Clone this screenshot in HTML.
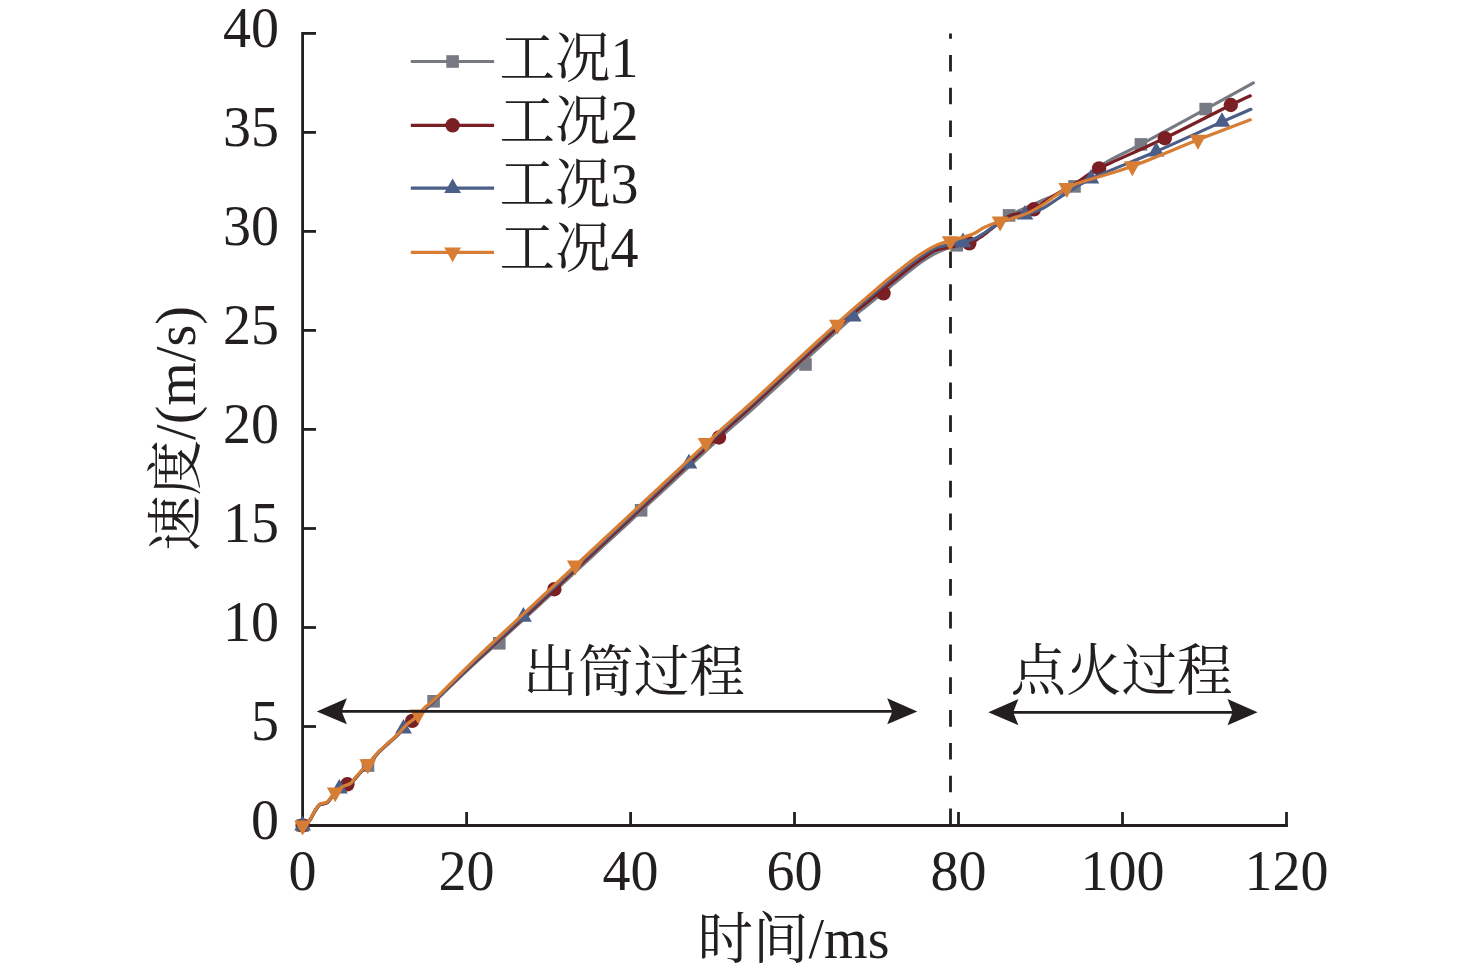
<!DOCTYPE html>
<html><head><meta charset="utf-8"><style>
html,body{margin:0;padding:0;background:#fff;}
svg{display:block;}
.n,.n2{font-family:"Liberation Serif",serif;font-size:56px;fill:#231f20;}
.c{font-family:"Noto Serif CJK SC","Liberation Serif",serif;font-size:55.5px;fill:#231f20;font-weight:400;}
.c .n2{font-weight:400;}
</style></head><body>
<svg width="1476" height="976" viewBox="0 0 1476 976">
<rect width="1476" height="976" fill="#fff"/>
<line x1="950.5" y1="825" x2="950.5" y2="33.5" stroke="#231f20" stroke-width="2.8" stroke-dasharray="16.6 16.16"/>
<path d="M302.6,33.4 V825.5 H1286.5" fill="none" stroke="#231f20" stroke-width="2.8" stroke-linejoin="miter" stroke-linecap="square"/>
<line x1="302.6" y1="726.5" x2="316" y2="726.5" stroke="#231f20" stroke-width="2.8"/>
<line x1="302.6" y1="627.5" x2="316" y2="627.5" stroke="#231f20" stroke-width="2.8"/>
<line x1="302.6" y1="528.5" x2="316" y2="528.5" stroke="#231f20" stroke-width="2.8"/>
<line x1="302.6" y1="429.4" x2="316" y2="429.4" stroke="#231f20" stroke-width="2.8"/>
<line x1="302.6" y1="330.4" x2="316" y2="330.4" stroke="#231f20" stroke-width="2.8"/>
<line x1="302.6" y1="231.4" x2="316" y2="231.4" stroke="#231f20" stroke-width="2.8"/>
<line x1="302.6" y1="132.4" x2="316" y2="132.4" stroke="#231f20" stroke-width="2.8"/>
<line x1="302.6" y1="33.4" x2="316" y2="33.4" stroke="#231f20" stroke-width="2.8"/>
<line x1="466.6" y1="825.5" x2="466.6" y2="812" stroke="#231f20" stroke-width="2.8"/>
<line x1="630.6" y1="825.5" x2="630.6" y2="812" stroke="#231f20" stroke-width="2.8"/>
<line x1="794.5" y1="825.5" x2="794.5" y2="812" stroke="#231f20" stroke-width="2.8"/>
<line x1="958.5" y1="825.5" x2="958.5" y2="812" stroke="#231f20" stroke-width="2.8"/>
<line x1="1122.5" y1="825.5" x2="1122.5" y2="812" stroke="#231f20" stroke-width="2.8"/>
<line x1="1286.5" y1="825.5" x2="1286.5" y2="812" stroke="#231f20" stroke-width="2.8"/>
<path d="M302.6,826.3 C303.1,826.2 304.2,826.6 305.5,825.6 C306.8,824.6 308.6,822.4 310.1,820.1 C311.6,817.8 313.1,814.3 314.7,811.8 C316.2,809.3 317.8,806.6 319.4,805.3 C320.9,804.0 322.6,804.4 324.0,803.9 C325.4,803.4 326.4,803.6 327.6,802.6 C328.8,801.6 330.0,799.5 331.3,797.9 C332.6,796.3 333.5,794.9 335.2,793.2 C336.9,791.5 339.7,789.0 341.5,787.8 C343.3,786.6 344.6,786.6 346.1,786.0 C347.6,785.4 349.2,785.3 350.7,784.1 C352.2,782.9 353.3,780.9 355.3,778.6 C357.3,776.3 360.6,772.5 362.7,770.3 C364.8,768.0 366.0,767.1 367.8,765.1 C369.6,763.1 371.8,760.5 373.7,758.3 C375.6,756.1 376.8,754.4 379.3,751.9 C381.8,749.4 385.4,746.3 388.5,743.5 C391.6,740.7 394.6,738.3 397.7,735.2 C400.8,732.1 404.1,727.7 406.9,725.1 C409.7,722.5 412.4,721.1 414.3,719.5 C416.2,717.9 414.9,718.1 418.2,715.2 C421.5,712.3 429.4,706.0 434.0,701.9 C438.6,697.8 442.0,694.4 446.0,690.6 C450.0,686.8 454.0,682.9 458.0,679.1 C462.0,675.3 466.0,671.6 470.0,667.9 C474.0,664.1 478.0,660.5 482.0,656.9 C486.0,653.3 490.0,649.7 494.0,646.1 C498.0,642.6 502.0,638.9 506.0,635.3 C510.0,631.7 514.0,628.0 518.0,624.4 C522.0,620.8 526.0,617.1 530.0,613.5 C534.0,609.8 538.0,606.2 542.0,602.5 C546.0,598.9 550.0,595.3 554.0,591.6 C558.0,587.9 562.0,584.2 566.0,580.5 C570.0,576.8 574.0,573.1 578.0,569.4 C582.0,565.7 586.0,562.0 590.0,558.3 C594.0,554.6 598.0,550.9 602.0,547.2 C606.0,543.5 610.0,539.8 614.0,536.1 C618.0,532.4 622.0,528.7 626.0,525.0 C630.0,521.3 634.0,517.6 638.0,513.8 C642.0,510.1 646.0,506.5 650.0,502.7 C654.0,499.0 658.0,495.3 662.0,491.6 C666.0,487.9 670.0,484.2 674.0,480.5 C678.0,476.8 682.0,473.1 686.0,469.4 C690.0,465.7 694.0,461.9 698.0,458.2 C702.0,454.4 706.0,450.7 710.0,447.0 C714.0,443.3 718.0,439.5 722.0,435.9 C726.0,432.2 730.0,428.6 734.0,425.1 C738.0,421.6 742.0,418.3 746.0,414.7 C750.0,411.2 754.0,407.6 758.0,404.0 C762.0,400.3 766.0,396.6 770.0,392.9 C774.0,389.2 778.0,385.5 782.0,381.8 C786.0,378.1 790.0,374.4 794.0,370.7 C798.0,366.9 802.0,363.2 806.0,359.5 C810.0,355.7 814.0,352.0 818.0,348.4 C822.0,344.7 826.0,341.0 830.0,337.4 C834.0,333.7 838.0,330.0 842.0,326.5 C846.0,322.9 850.0,319.4 854.0,316.0 C858.0,312.7 862.0,309.6 866.0,306.4 C870.0,303.2 874.0,299.9 878.0,296.7 C882.0,293.4 886.0,290.2 890.0,286.9 C894.0,283.7 898.0,280.3 902.0,277.0 C906.0,273.7 910.0,270.4 914.0,267.4 C918.0,264.4 922.0,261.4 926.0,258.9 C930.0,256.3 932.9,254.3 938.0,252.0 C943.1,249.8 952.0,246.7 956.7,245.3 C961.4,243.9 962.8,244.5 966.0,243.5 C969.2,242.5 972.7,241.1 976.0,239.3 C979.3,237.5 982.7,235.1 986.0,232.5 C989.3,229.9 992.1,226.8 996.0,224.0 C999.9,221.2 1001.9,219.1 1009.1,215.4 C1016.4,211.7 1032.4,204.7 1039.5,201.6 C1046.6,198.5 1045.8,199.1 1051.6,196.6 C1057.4,194.1 1065.7,191.9 1074.5,186.4 C1083.3,180.9 1093.5,170.4 1104.6,163.4 C1115.7,156.4 1124.1,153.5 1140.9,144.4 C1157.8,135.3 1187.0,119.3 1205.7,109.1 C1224.5,98.8 1245.5,87.3 1253.4,82.9" fill="none" stroke="#777a82" stroke-width="3.2" stroke-linejoin="round" stroke-linecap="round"/>
<rect x="296.3" y="819.2" width="12.6" height="12.6" fill="#777a82"/>
<rect x="361.7" y="759.3" width="12.6" height="12.6" fill="#777a82"/>
<rect x="427.3" y="695.0" width="12.6" height="12.6" fill="#777a82"/>
<rect x="493.0" y="637.0" width="12.6" height="12.6" fill="#777a82"/>
<rect x="634.8" y="504.0" width="12.6" height="12.6" fill="#777a82"/>
<rect x="799.2" y="358.2" width="12.6" height="12.6" fill="#777a82"/>
<rect x="950.4" y="239.0" width="12.6" height="12.6" fill="#777a82"/>
<rect x="1002.8" y="209.1" width="12.6" height="12.6" fill="#777a82"/>
<rect x="1068.2" y="180.1" width="12.6" height="12.6" fill="#777a82"/>
<rect x="1134.6" y="138.1" width="12.6" height="12.6" fill="#777a82"/>
<rect x="1199.4" y="102.8" width="12.6" height="12.6" fill="#777a82"/>
<path d="M302.6,825.9 C303.1,825.8 304.2,826.2 305.5,825.2 C306.8,824.2 308.6,822.0 310.1,819.7 C311.6,817.4 313.1,813.9 314.7,811.4 C316.2,808.9 317.8,806.2 319.4,804.9 C320.9,803.6 322.6,804.0 324.0,803.5 C325.4,803.0 326.4,803.2 327.6,802.2 C328.8,801.2 330.0,799.1 331.3,797.5 C332.6,795.9 333.5,794.5 335.2,792.8 C336.9,791.1 339.7,788.6 341.5,787.4 C343.3,786.2 344.6,786.2 346.1,785.6 C347.6,785.0 349.2,784.9 350.7,783.7 C352.2,782.5 353.3,780.5 355.3,778.2 C357.3,775.9 360.6,772.1 362.7,769.9 C364.8,767.6 366.0,766.7 367.8,764.7 C369.6,762.7 371.8,760.1 373.7,757.9 C375.6,755.7 376.8,754.0 379.3,751.5 C381.8,749.0 385.4,745.9 388.5,743.1 C391.6,740.3 394.6,737.9 397.7,734.8 C400.8,731.7 404.1,727.3 406.9,724.7 C409.7,722.1 412.4,720.8 414.3,719.1 C416.2,717.5 414.9,717.8 418.2,714.8 C421.5,711.8 429.4,705.2 434.0,701.0 C438.6,696.8 442.0,693.4 446.0,689.6 C450.0,685.7 454.0,681.8 458.0,678.0 C462.0,674.2 466.0,670.4 470.0,666.6 C474.0,662.9 478.0,659.2 482.0,655.5 C486.0,651.9 490.0,648.3 494.0,644.7 C498.0,641.1 502.0,637.4 506.0,633.8 C510.0,630.2 514.0,626.6 518.0,622.9 C522.0,619.2 526.0,615.6 530.0,611.9 C534.0,608.2 538.0,604.4 542.0,600.7 C546.0,597.0 550.0,593.3 554.0,589.6 C558.0,585.9 562.0,582.1 566.0,578.4 C570.0,574.7 574.0,571.0 578.0,567.2 C582.0,563.5 586.0,559.8 590.0,556.1 C594.0,552.3 598.0,548.6 602.0,544.9 C606.0,541.2 610.0,537.5 614.0,533.7 C618.0,530.0 622.0,526.3 626.0,522.6 C630.0,518.8 634.0,515.1 638.0,511.4 C642.0,507.6 646.0,503.9 650.0,500.2 C654.0,496.4 658.0,492.7 662.0,488.9 C666.0,485.2 670.0,481.4 674.0,477.7 C678.0,473.9 682.0,470.2 686.0,466.4 C690.0,462.7 694.0,458.9 698.0,455.2 C702.0,451.4 706.0,447.7 710.0,444.0 C714.0,440.3 718.0,436.5 722.0,432.9 C726.0,429.2 730.0,425.6 734.0,422.0 C738.0,418.5 742.0,415.1 746.0,411.6 C750.0,408.0 754.0,404.4 758.0,400.7 C762.0,397.0 766.0,393.3 770.0,389.6 C774.0,385.8 778.0,382.1 782.0,378.4 C786.0,374.6 790.0,370.9 794.0,367.2 C798.0,363.5 802.0,359.8 806.0,356.1 C810.0,352.4 814.0,348.7 818.0,345.1 C822.0,341.4 826.0,337.8 830.0,334.2 C834.0,330.6 838.0,326.9 842.0,323.4 C846.0,319.9 850.0,316.4 854.0,313.0 C858.0,309.6 862.0,306.5 866.0,303.2 C870.0,300.0 874.0,296.7 878.0,293.5 C882.0,290.3 886.0,287.1 890.0,283.8 C894.0,280.6 898.0,277.3 902.0,274.0 C906.0,270.8 910.0,267.5 914.0,264.5 C918.0,261.5 922.0,258.6 926.0,256.1 C930.0,253.6 930.8,251.7 938.0,249.5 C945.2,247.4 962.3,245.3 969.3,243.3 C976.3,241.3 976.5,239.7 980.0,237.5 C983.5,235.3 987.2,232.2 990.0,230.0 C992.8,227.8 994.5,226.4 997.0,224.5 C999.5,222.6 1002.7,220.1 1005.0,218.5 C1007.3,216.9 1008.5,216.0 1010.8,215.2 C1013.1,214.3 1014.9,214.4 1018.7,213.4 C1022.6,212.4 1028.7,211.9 1033.9,209.3 C1039.1,206.7 1042.5,202.7 1050.0,198.0 C1057.5,193.3 1070.7,185.9 1078.9,181.0 C1087.1,176.1 1084.8,175.5 1099.1,168.4 C1113.4,161.3 1142.8,148.8 1164.8,138.2 C1186.8,127.6 1216.5,112.1 1230.8,105.0 C1245.0,97.9 1247.0,97.3 1250.3,95.8" fill="none" stroke="#7a1f24" stroke-width="3.2" stroke-linejoin="round" stroke-linecap="round"/>
<circle cx="302.6" cy="825.5" r="7.2" fill="#7a1f24"/>
<circle cx="347.4" cy="784.3" r="7.2" fill="#7a1f24"/>
<circle cx="412.2" cy="720.9" r="7.2" fill="#7a1f24"/>
<circle cx="554.4" cy="589.2" r="7.2" fill="#7a1f24"/>
<circle cx="719.0" cy="437.5" r="7.2" fill="#7a1f24"/>
<circle cx="883.5" cy="293.3" r="7.2" fill="#7a1f24"/>
<circle cx="969.3" cy="243.3" r="7.2" fill="#7a1f24"/>
<circle cx="1033.9" cy="209.3" r="7.2" fill="#7a1f24"/>
<circle cx="1099.1" cy="168.4" r="7.2" fill="#7a1f24"/>
<circle cx="1164.8" cy="138.2" r="7.2" fill="#7a1f24"/>
<circle cx="1230.8" cy="105.0" r="7.2" fill="#7a1f24"/>
<path d="M302.6,825.8 C303.1,825.7 304.2,826.1 305.5,825.1 C306.8,824.1 308.6,821.9 310.1,819.6 C311.6,817.3 313.1,813.8 314.7,811.3 C316.2,808.8 317.8,806.1 319.4,804.8 C320.9,803.5 322.6,803.9 324.0,803.4 C325.4,802.9 326.4,803.1 327.6,802.1 C328.8,801.1 330.0,799.0 331.3,797.4 C332.6,795.8 333.5,794.4 335.2,792.7 C336.9,791.0 339.7,788.5 341.5,787.3 C343.3,786.1 344.6,786.1 346.1,785.5 C347.6,784.9 349.2,784.8 350.7,783.6 C352.2,782.4 353.3,780.4 355.3,778.1 C357.3,775.8 360.6,772.0 362.7,769.8 C364.8,767.5 366.0,766.6 367.8,764.6 C369.6,762.6 371.8,760.0 373.7,757.8 C375.6,755.6 376.8,753.9 379.3,751.4 C381.8,748.9 385.4,745.8 388.5,743.0 C391.6,740.2 394.6,737.8 397.7,734.7 C400.8,731.6 404.1,727.2 406.9,724.6 C409.7,722.0 412.4,720.6 414.3,719.0 C416.2,717.4 414.9,717.7 418.2,714.7 C421.5,711.7 429.4,705.2 434.0,701.0 C438.6,696.7 442.0,693.2 446.0,689.3 C450.0,685.4 454.0,681.4 458.0,677.4 C462.0,673.5 466.0,669.6 470.0,665.8 C474.0,662.0 478.0,658.2 482.0,654.4 C486.0,650.7 490.0,647.0 494.0,643.3 C498.0,639.6 502.0,635.9 506.0,632.2 C510.0,628.5 514.0,624.7 518.0,621.0 C522.0,617.3 526.0,613.6 530.0,609.9 C534.0,606.2 538.0,602.4 542.0,598.7 C546.0,595.0 550.0,591.3 554.0,587.6 C558.0,583.9 562.0,580.1 566.0,576.4 C570.0,572.7 574.0,569.0 578.0,565.2 C582.0,561.5 586.0,557.8 590.0,554.1 C594.0,550.3 598.0,546.6 602.0,542.9 C606.0,539.2 610.0,535.5 614.0,531.7 C618.0,528.0 622.0,524.3 626.0,520.6 C630.0,516.8 634.0,513.1 638.0,509.4 C642.0,505.6 646.0,501.8 650.0,498.1 C654.0,494.3 658.0,490.5 662.0,486.7 C666.0,482.9 670.0,479.1 674.0,475.3 C678.0,471.5 682.0,467.7 686.0,463.9 C690.0,460.2 694.0,456.4 698.0,452.7 C702.0,448.9 706.0,445.2 710.0,441.5 C714.0,437.8 718.0,434.0 722.0,430.4 C726.0,426.7 730.0,423.1 734.0,419.5 C738.0,416.0 742.0,412.6 746.0,409.1 C750.0,405.5 754.0,401.9 758.0,398.2 C762.0,394.5 766.0,390.8 770.0,387.1 C774.0,383.3 778.0,379.6 782.0,375.9 C786.0,372.1 790.0,368.4 794.0,364.7 C798.0,360.9 802.0,357.2 806.0,353.5 C810.0,349.7 814.0,346.0 818.0,342.4 C822.0,338.7 826.0,335.0 830.0,331.4 C834.0,327.7 838.0,324.0 842.0,320.5 C846.0,316.9 850.0,313.4 854.0,309.9 C858.0,306.5 862.0,303.3 866.0,300.0 C870.0,296.7 874.0,293.3 878.0,290.0 C882.0,286.6 886.0,283.2 890.0,279.9 C894.0,276.7 898.0,273.4 902.0,270.3 C906.0,267.1 910.0,263.9 914.0,261.1 C918.0,258.2 922.0,255.5 926.0,253.1 C930.0,250.8 931.8,248.8 938.0,247.0 C944.2,245.2 956.8,243.7 963.0,242.3 C969.2,240.9 971.3,240.1 975.0,238.5 C978.7,236.9 981.7,234.6 985.0,232.5 C988.3,230.4 991.7,228.0 995.0,226.0 C998.3,224.0 1001.7,222.0 1005.0,220.5 C1008.3,219.0 1011.7,218.0 1015.0,217.0 C1018.3,216.0 1020.3,216.2 1025.0,214.7 C1029.7,213.2 1037.6,210.8 1043.0,208.2 C1048.4,205.6 1053.8,201.3 1057.4,199.0 C1061.0,196.7 1059.0,197.8 1064.6,194.4 C1070.2,191.0 1075.7,185.8 1091.0,178.7 C1106.3,171.5 1134.4,161.0 1156.2,151.5 C1178.0,142.0 1206.2,128.9 1222.0,121.9 C1237.8,114.9 1246.1,111.4 1250.9,109.3" fill="none" stroke="#4a5e88" stroke-width="3.2" stroke-linejoin="round" stroke-linecap="round"/>
<polygon points="302.6,815.8 294.2,830.4 311.0,830.4" fill="#4a5e88"/>
<polygon points="339.3,778.9 330.9,793.5 347.7,793.5" fill="#4a5e88"/>
<polygon points="403.5,718.9 395.1,733.5 411.9,733.5" fill="#4a5e88"/>
<polygon points="523.4,607.1 515.0,621.7 531.8,621.7" fill="#4a5e88"/>
<polygon points="688.9,453.8 680.5,468.4 697.2,468.4" fill="#4a5e88"/>
<polygon points="853.3,307.0 844.9,321.6 861.6,321.6" fill="#4a5e88"/>
<polygon points="963.0,232.6 954.6,247.2 971.4,247.2" fill="#4a5e88"/>
<polygon points="1025.0,205.0 1016.6,219.6 1033.3,219.6" fill="#4a5e88"/>
<polygon points="1091.0,169.0 1082.7,183.6 1099.3,183.6" fill="#4a5e88"/>
<polygon points="1156.2,141.8 1147.9,156.4 1164.5,156.4" fill="#4a5e88"/>
<polygon points="1222.0,112.2 1213.7,126.8 1230.3,126.8" fill="#4a5e88"/>
<path d="M302.6,825.5 C303.1,825.4 304.2,825.8 305.5,824.8 C306.8,823.8 308.6,821.6 310.1,819.3 C311.6,817.0 313.1,813.5 314.7,811.0 C316.2,808.5 317.8,805.8 319.4,804.5 C320.9,803.2 322.6,803.6 324.0,803.1 C325.4,802.6 326.4,802.8 327.6,801.8 C328.8,800.8 330.0,798.7 331.3,797.1 C332.6,795.5 333.5,794.1 335.2,792.4 C336.9,790.7 339.7,788.2 341.5,787.0 C343.3,785.8 344.6,785.8 346.1,785.2 C347.6,784.6 349.2,784.5 350.7,783.3 C352.2,782.1 353.3,780.1 355.3,777.8 C357.3,775.5 360.6,771.8 362.7,769.5 C364.8,767.2 366.0,766.3 367.8,764.3 C369.6,762.3 371.8,759.7 373.7,757.5 C375.6,755.3 376.8,753.6 379.3,751.1 C381.8,748.6 385.4,745.5 388.5,742.7 C391.6,739.9 394.6,737.5 397.7,734.4 C400.8,731.3 404.1,726.9 406.9,724.3 C409.7,721.7 412.4,720.4 414.3,718.7 C416.2,717.1 416.4,716.4 418.2,714.4 C420.0,712.4 422.7,709.3 425.4,706.8 C428.1,704.3 425.5,708.1 434.6,699.4 C443.7,690.7 459.1,674.5 480.0,654.6 C500.9,634.7 533.3,604.9 560.0,580.0 C586.7,555.1 613.3,530.4 640.0,505.5 C666.7,480.6 701.3,447.9 720.0,430.7 C738.7,413.5 741.3,411.9 752.0,402.2 C762.7,392.5 773.3,382.4 784.0,372.5 C794.7,362.6 805.3,352.5 816.0,342.7 C826.7,332.9 838.7,321.9 848.0,313.6 C857.3,305.3 865.3,298.7 872.0,293.0 C878.7,287.3 882.7,283.6 888.0,279.2 C893.3,274.8 898.7,270.5 904.0,266.4 C909.3,262.3 914.7,258.1 920.0,254.6 C925.3,251.1 931.0,247.7 936.0,245.4 C941.0,243.1 946.0,241.9 950.3,240.6 C954.6,239.3 958.0,238.8 962.0,237.6 C966.0,236.4 971.1,234.8 974.6,233.2 C978.1,231.6 980.1,229.6 982.8,228.1 C985.5,226.6 988.1,225.5 991.0,224.4 C993.9,223.3 996.7,222.6 1000.1,221.6 C1003.5,220.6 1006.8,220.2 1011.6,218.7 C1016.4,217.2 1023.5,215.0 1028.7,212.6 C1033.9,210.2 1038.2,207.6 1043.0,204.5 C1047.8,201.4 1053.4,196.9 1057.4,194.2 C1061.4,191.5 1063.0,190.3 1066.8,188.4 C1070.6,186.5 1069.1,186.3 1080.0,182.6 C1090.9,178.9 1112.6,173.4 1132.3,166.3 C1152.0,159.2 1178.3,147.6 1198.0,139.8 C1217.7,132.1 1241.6,123.1 1250.3,119.8" fill="none" stroke="#d77d34" stroke-width="3.2" stroke-linejoin="round" stroke-linecap="round"/>
<polygon points="302.6,835.4 294.2,820.5 311.0,820.5" fill="#d77d34"/>
<polygon points="335.2,802.3 326.8,787.4 343.6,787.4" fill="#d77d34"/>
<polygon points="367.8,774.2 359.4,759.3 376.2,759.3" fill="#d77d34"/>
<polygon points="418.2,724.3 409.8,709.4 426.6,709.4" fill="#d77d34"/>
<polygon points="575.3,575.5 566.9,560.6 583.7,560.6" fill="#d77d34"/>
<polygon points="706.1,452.8 697.7,437.9 714.5,437.9" fill="#d77d34"/>
<polygon points="837.4,334.7 829.0,319.8 845.8,319.8" fill="#d77d34"/>
<polygon points="950.3,251.1 941.9,236.2 958.7,236.2" fill="#d77d34"/>
<polygon points="1000.1,231.5 991.7,216.6 1008.5,216.6" fill="#d77d34"/>
<polygon points="1066.8,197.9 1058.4,183.0 1075.2,183.0" fill="#d77d34"/>
<polygon points="1132.3,176.2 1123.9,161.3 1140.7,161.3" fill="#d77d34"/>
<polygon points="1198.0,149.7 1189.6,134.8 1206.4,134.8" fill="#d77d34"/>
<line x1="336.8" y1="711.4" x2="897.3" y2="711.4" stroke="#231f20" stroke-width="2.8"/><polygon points="316.8,711.4 346.9,698.2 341.7,711.4 346.9,724.3" fill="#231f20"/><polygon points="917.3,711.4 887.2,698.2 892.4,711.4 887.2,724.3" fill="#231f20"/>
<line x1="1008.3" y1="712.3" x2="1237.6" y2="712.3" stroke="#231f20" stroke-width="2.8"/><polygon points="988.3,712.3 1018.4,699.1 1013.2,712.3 1018.4,725.2" fill="#231f20"/><polygon points="1257.6,712.3 1227.5,699.1 1232.7,712.3 1227.5,725.2" fill="#231f20"/>
<line x1="410.8" y1="61.5" x2="494.1" y2="61.5" stroke="#777a82" stroke-width="3.2"/>
<rect x="446.3" y="55.2" width="12.6" height="12.6" fill="#777a82"/>
<line x1="410.8" y1="125.3" x2="494.1" y2="125.3" stroke="#7a1f24" stroke-width="3.2"/>
<circle cx="452.6" cy="125.3" r="7.2" fill="#7a1f24"/>
<line x1="410.8" y1="188.2" x2="494.1" y2="188.2" stroke="#4a5e88" stroke-width="3.2"/>
<polygon points="452.6,178.5 444.2,193.1 461.0,193.1" fill="#4a5e88"/>
<line x1="410.8" y1="252.4" x2="494.1" y2="252.4" stroke="#d77d34" stroke-width="3.2"/>
<polygon points="452.6,262.3 444.2,247.4 461.0,247.4" fill="#d77d34"/>
<text x="279" y="838.8" text-anchor="end" class="n">0</text>
<text x="279" y="739.8" text-anchor="end" class="n">5</text>
<text x="279" y="640.8" text-anchor="end" class="n">10</text>
<text x="279" y="541.8" text-anchor="end" class="n">15</text>
<text x="279" y="442.8" text-anchor="end" class="n">20</text>
<text x="279" y="343.7" text-anchor="end" class="n">25</text>
<text x="279" y="244.7" text-anchor="end" class="n">30</text>
<text x="279" y="145.7" text-anchor="end" class="n">35</text>
<text x="279" y="46.7" text-anchor="end" class="n">40</text>
<text x="302.6" y="890" text-anchor="middle" class="n">0</text>
<text x="466.6" y="890" text-anchor="middle" class="n">20</text>
<text x="630.6" y="890" text-anchor="middle" class="n">40</text>
<text x="794.5" y="890" text-anchor="middle" class="n">60</text>
<text x="958.5" y="890" text-anchor="middle" class="n">80</text>
<text x="1122.5" y="890" text-anchor="middle" class="n">100</text>
<text x="1286.5" y="890" text-anchor="middle" class="n">120</text>
<text x="499.5" y="76.5" class="c">工况<tspan class="n2">1</tspan></text>
<text x="499.5" y="140.3" class="c">工况<tspan class="n2">2</tspan></text>
<text x="499.5" y="203.2" class="c">工况<tspan class="n2">3</tspan></text>
<text x="499.5" y="267.4" class="c">工况<tspan class="n2">4</tspan></text>
<text x="793.5" y="958" text-anchor="middle" class="c">时间<tspan class="n2">/ms</tspan></text>
<text transform="translate(194.6,428.5) rotate(-90)" x="0" y="0" text-anchor="middle" class="c">速度<tspan class="n2">/(m/s)</tspan></text>
<text x="633.8" y="691" text-anchor="middle" class="c">出筒过程</text>
<text x="1121.6" y="690" text-anchor="middle" class="c">点火过程</text>
</svg>
</body></html>
